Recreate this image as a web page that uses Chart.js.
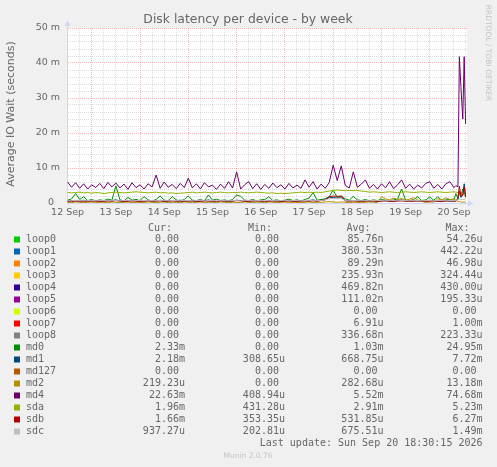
<!DOCTYPE html>
<html>
<head>
<meta charset="utf-8">
<title>Disk latency per device - by week</title>
<script src="https://cdn.jsdelivr.net/npm/chart.js@4.4.1/dist/chart.umd.min.js"></script>
<style>
  html, body { margin: 0; padding: 0; background: #f0f0f0; }
  #wrap { width: 497px; height: 467px; }
</style>
</head>
<body>
<div id="wrap"><canvas id="latencyChart" width="497" height="467"></canvas></div>
<script>
// device names in munin order (later ones are drawn on top)
const DEVICES = ['loop0', 'loop1', 'loop2', 'loop3', 'loop4', 'loop5', 'loop6', 'loop7', 'loop8',
    'md0', 'md1', 'md127', 'md2', 'md4', 'sda', 'sdb', 'sdc'];
const COLORS = ['#00CC00', '#0066B3', '#FF8000', '#FFCC00', '#330099', '#990099', '#CCFF00', '#FF0000', '#808080',
    '#008F00', '#00487D', '#B35A00', '#B38F00', '#6B006B', '#8FB300', '#B30000', '#BEBEBE'];

// legend columns, as printed under the graph
const CUR = ['0.00', '0.00', '0.00', '0.00', '0.00', '0.00', '0.00', '0.00', '0.00',
    '2.33m', '2.18m', '0.00', '219.23u', '22.63m', '1.96m', '1.66m', '937.27u'];
const MIN = ['0.00', '0.00', '0.00', '0.00', '0.00', '0.00', '0.00', '0.00', '0.00',
    '0.00', '308.65u', '0.00', '0.00', '408.94u', '431.28u', '353.35u', '202.81u'];
const AVG = ['85.76n', '380.53n', '89.29n', '235.93n', '469.82n', '111.02n', '0.00', '6.91u', '336.68n',
    '1.03m', '668.75u', '0.00', '282.68u', '5.52m', '2.91m', '531.85u', '675.51u'];
const MAX = ['54.26u', '442.22u', '46.98u', '324.44u', '430.00u', '195.33u', '0.00', '1.00m', '223.33u',
    '24.95m', '7.72m', '0.00', '13.18m', '74.68m', '5.23m', '6.27m', '1.49m'];

// axis labels
const DAY_LABELS = ['12 Sep', '13 Sep', '14 Sep', '15 Sep', '16 Sep', '17 Sep', '18 Sep', '19 Sep', '20 Sep'];
const Y_LABELS = ['0  ', '10 m', '20 m', '30 m', '40 m', '50 m'];

// sample times, hours since 12 Sep 00:00 (2h steps, finer at the end spike)
const HOURS = [];
for (let h = 12; h <= 204; h += 2) HOURS.push(h);
HOURS.push(205, 206, 206.7, 207.5, 208.4, 209.1, 209.8);

// values in milliseconds
const MD0 = [0.8, 1.2, 2.7, 1.0, 1.8, 0.7, 1.0, 0.6, 0.9, 0.7, 1.1, 0.8,
    4.9, 0.9, 0.6, 1.6, 0.8, 1.0, 0.7, 1.8, 0.9, 0.6, 1.0, 2.0,
    0.8, 0.7, 1.8, 0.9, 0.6, 1.0, 2.0, 0.8, 0.7, 1.0, 0.6, 2.3,
    0.8, 1.1, 0.7, 0.9, 0.6, 1.0, 2.3, 1.9, 0.8, 0.7, 1.0, 0.6,
    0.9, 1.0, 1.8, 0.7, 0.9, 0.6, 0.8, 1.1, 0.7, 0.9, 0.6, 1.0,
    1.4, 3.0, 0.8, 1.0, 1.2, 1.8, 3.7, 1.6, 2.0, 1.2, 0.8, 1.9,
    0.9, 0.7, 1.0, 0.6, 0.9, 0.7, 1.0, 0.8, 0.6, 0.9, 1.1, 4.0,
    0.8, 0.7, 1.0, 1.8, 0.7, 0.9, 1.7, 0.8, 1.8, 0.7, 0.9, 1.0,
    0.8,
    2.7, 1.2, 3.5, 2.0, 4.0, 2.8, 2.33];
const MD1 = [0.6, 0.7, 0.5, 0.6, 0.8, 0.6, 0.5, 0.7, 0.6, 0.5, 0.6, 0.7,
    0.9, 0.6, 0.5, 0.7, 0.6, 0.8, 0.6, 0.5, 0.7, 0.6, 0.5, 0.8,
    0.6, 0.5, 0.7, 0.6, 0.8, 0.6, 0.5, 0.7, 0.6, 0.5, 0.6, 0.9,
    0.6, 0.5, 0.7, 0.6, 0.5, 0.6, 0.8, 0.7, 0.6, 0.5, 0.6, 0.7,
    0.6, 0.5, 0.7, 0.6, 0.5, 0.6, 0.7, 0.6, 0.5, 0.6, 0.7, 0.6,
    0.7, 0.9, 0.6, 0.8, 1.0, 1.5, 1.6, 1.4, 1.5, 0.7, 0.6, 0.7,
    0.6, 0.5, 0.7, 0.6, 0.5, 0.6, 0.7, 0.6, 0.5, 0.6, 0.7, 0.9,
    0.6, 0.5, 0.7, 0.6, 0.5, 0.6, 0.8, 0.6, 0.5, 0.7, 0.6, 0.5,
    0.6,
    0.7, 1.2, 3.0, 1.6, 2.5, 5.5, 2.18];
const MD2 = [0.2, 0.1, 0.3, 0.2, 0.1, 0.2, 0.3, 0.1, 0.2, 0.2, 0.1, 0.3,
    0.2, 0.1, 0.2, 0.3, 0.1, 0.2, 0.2, 0.1, 0.3, 0.2, 0.1, 0.2,
    0.3, 0.1, 0.2, 0.2, 0.1, 0.3, 0.2, 0.1, 0.2, 0.3, 0.1, 0.2,
    0.2, 0.1, 0.3, 0.2, 0.1, 0.2, 0.2, 0.1, 0.3, 0.2, 0.1, 0.2,
    0.2, 0.1, 0.3, 0.2, 0.1, 0.2, 0.3, 0.1, 0.2, 0.2, 0.1, 0.2,
    0.3, 0.1, 0.2, 0.2, 0.3, 0.4, 0.3, 0.2, 0.3, 0.2, 0.1, 0.2,
    0.2, 0.1, 0.2, 0.3, 0.2, 0.1, 1.8, 1.2, 0.9, 1.4, 1.0, 1.3,
    0.8, 1.1, 1.5, 0.9, 0.4, 0.2, 0.3, 0.2, 1.2, 0.9, 1.5, 1.0,
    1.2,
    0.8, 0.4, 0.5, 0.3, 0.2, 0.3, 0.22];
const MD4 = [6.0, 4.5, 5.8, 4.2, 5.5, 4.0, 5.2, 4.4, 5.6, 4.1, 5.9, 4.6,
    5.7, 4.3, 5.4, 3.9, 5.8, 4.4, 5.2, 4.0, 5.5, 4.6, 8.0, 4.2,
    6.0, 4.5, 5.3, 4.1, 5.6, 4.4, 7.1, 4.3, 5.5, 4.0, 5.8, 4.6,
    5.1, 3.9, 5.4, 4.2, 6.1, 4.3, 8.9, 4.0, 5.2, 6.1, 4.1, 5.5,
    3.9, 5.3, 4.2, 5.7, 4.4, 5.2, 4.0, 5.6, 4.3, 5.1, 4.2, 6.6,
    4.5, 6.1, 4.0, 5.4, 4.2, 5.8, 10.8, 6.4, 10.6, 5.0, 4.3, 8.9,
    4.5, 5.4, 6.6, 4.2, 5.3, 4.0, 5.5, 4.3, 6.1, 4.1, 5.2, 6.6,
    4.2, 5.4, 4.0, 5.1, 4.3, 5.6, 6.1, 4.2, 5.3, 4.0, 5.5, 6.1,
    4.4,
    5.0, 4.6, 41.8, 33.0, 24.0, 41.8, 22.6];
const SDA = [3.0, 2.9, 3.0, 3.1, 2.9, 3.0, 2.8, 3.0, 2.9, 2.7, 2.9, 3.0,
    3.1, 3.0, 2.9, 3.0, 3.1, 3.2, 3.1, 3.0, 2.9, 3.0, 3.1, 2.9,
    3.0, 2.8, 2.9, 2.7, 2.8, 2.9, 3.0, 3.1, 2.9, 3.0, 3.1, 3.0,
    2.9, 3.0, 3.1, 3.0, 2.9, 3.0, 3.0, 3.1, 3.0, 2.9, 3.0, 3.1,
    3.0, 2.9, 2.8, 2.9, 2.7, 2.8, 2.7, 2.8, 2.9, 3.0, 3.1, 3.0,
    3.1, 3.0, 3.1, 3.0, 3.2, 3.4, 3.6, 3.7, 3.6, 3.5, 3.6, 3.5,
    3.6, 3.4, 3.3, 3.1, 3.2, 3.1, 3.0, 3.1, 3.2, 3.1, 3.0, 3.1,
    3.2, 3.1, 3.0, 3.1, 3.2, 3.1, 3.0, 3.1, 3.2, 3.1, 3.0, 3.1,
    3.2,
    3.1, 3.0, 2.6, 2.2, 2.8, 2.3, 1.96];
const SDB = [0.5, 0.4, 0.6, 0.5, 0.4, 0.5, 0.6, 0.5, 0.4, 0.5, 0.6, 0.5,
    0.7, 0.5, 0.4, 0.5, 0.6, 0.5, 0.4, 0.5, 0.6, 0.5, 0.5, 0.6,
    0.4, 0.5, 0.6, 0.5, 0.4, 0.5, 0.6, 0.5, 0.4, 0.5, 0.6, 0.5,
    0.5, 0.4, 0.6, 0.5, 0.4, 0.5, 0.7, 0.6, 0.5, 0.4, 0.5, 0.6,
    0.5, 0.4, 0.5, 0.6, 0.5, 0.4, 0.5, 0.6, 0.5, 0.4, 0.5, 0.6,
    0.5, 0.6, 0.5, 0.7, 0.9, 1.8, 2.0, 1.9, 2.0, 0.6, 0.5, 0.6,
    0.5, 0.4, 0.5, 0.6, 0.5, 0.4, 0.5, 0.6, 0.5, 0.4, 0.5, 0.6,
    0.5, 0.4, 0.5, 0.6, 0.5, 0.4, 0.5, 0.6, 0.5, 0.4, 0.5, 0.6,
    0.5,
    0.5, 1.5, 4.8, 1.9, 2.2, 4.6, 1.66];
const SDC = [0.7, 0.6, 0.8, 0.7, 0.6, 0.7, 0.8, 0.6, 0.7, 0.7, 0.6, 0.8,
    0.7, 0.6, 0.7, 0.8, 0.6, 0.7, 0.7, 0.6, 0.8, 0.7, 0.6, 0.7,
    0.8, 0.6, 0.7, 0.7, 0.6, 0.8, 0.7, 0.6, 0.7, 0.8, 0.6, 0.7,
    0.7, 0.6, 0.8, 0.7, 0.6, 0.7, 0.7, 0.6, 0.8, 0.7, 0.6, 0.7,
    0.7, 0.6, 0.8, 0.7, 0.6, 0.7, 0.8, 0.6, 0.7, 0.7, 0.6, 0.7,
    0.8, 0.6, 0.7, 0.7, 0.9, 1.2, 1.3, 1.2, 1.3, 0.7, 0.6, 0.7,
    0.7, 0.6, 0.7, 0.8, 0.6, 0.7, 0.7, 0.6, 0.8, 0.7, 0.6, 0.7,
    0.7, 0.6, 0.8, 0.7, 0.6, 0.7, 0.7, 0.6, 0.8, 0.7, 0.6, 0.7,
    0.7,
    0.8, 0.9, 1.2, 1.0, 0.9, 1.1, 0.94];

// loop devices and md127 stayed at zero all week: legend only
const SERIES = { md0: MD0, md1: MD1, md2: MD2, md4: MD4, sda: SDA, sdb: SDB, sdc: SDC };

const FONT_COLOR = '#666666';
const AXIS_COLOR = '#CFD6F8';
const GRID_MINOR = 'rgba(143, 143, 143, 0.3)';
const GRID_MAJOR = 'rgba(222, 79, 79, 0.38)';
const SANS = '"DejaVu Sans", sans-serif';
const MONO = '"DejaVu Sans Mono", monospace';

const muninDecor = {
    id: 'muninDecor',
    beforeDraw(chart) {
        const { ctx, chartArea: a } = chart;
        ctx.save();
        ctx.fillStyle = '#f0f0f0';
        ctx.fillRect(0, 0, chart.width, chart.height);
        ctx.fillStyle = '#ffffff';
        ctx.fillRect(a.left, a.top, a.right - a.left, a.bottom - a.top);
        ctx.restore();
    },
    afterDraw(chart) {
        const { ctx, chartArea: a } = chart;
        ctx.save();
        ctx.fillStyle = FONT_COLOR;

        // title
        ctx.font = '12.4px ' + SANS;
        ctx.textAlign = 'center';
        ctx.textBaseline = 'middle';
        ctx.fillText('Disk latency per device - by week', 248, 19.5);

        // vertical axis title
        ctx.save();
        ctx.translate(11, 114);
        ctx.rotate(-Math.PI / 2);
        ctx.font = '11px ' + SANS;
        ctx.fillText('Average IO Wait (seconds)', 0, 0);
        ctx.restore();

        // rrdtool credit on the right
        ctx.save();
        ctx.translate(488, 53);
        ctx.rotate(Math.PI / 2);
        ctx.font = '7.5px ' + SANS;
        ctx.fillStyle = '#c4c4c4';
        ctx.fillText('RRDTOOL / TOBI OETIKER', 0, 0);
        ctx.restore();

        // axis arrows
        ctx.strokeStyle = AXIS_COLOR;
        ctx.fillStyle = AXIS_COLOR;
        ctx.lineWidth = 1;
        ctx.beginPath();
        ctx.moveTo(a.left + 0.5, a.top);
        ctx.lineTo(a.left + 0.5, 24);
        ctx.moveTo(a.right, a.bottom + 0.5);
        ctx.lineTo(470, a.bottom + 0.5);
        ctx.stroke();
        ctx.beginPath();
        ctx.moveTo(a.left + 0.5, 20.5);
        ctx.lineTo(a.left - 2.5, 26);
        ctx.lineTo(a.left + 3.5, 26);
        ctx.closePath();
        ctx.fill();
        ctx.beginPath();
        ctx.moveTo(473.5, a.bottom + 0.5);
        ctx.lineTo(468, a.bottom - 2.5);
        ctx.lineTo(468, a.bottom + 3.5);
        ctx.closePath();
        ctx.fill();

        // legend table
        const colRight = [185, 285, 383.5, 482.5];
        const heads = ['Cur:', 'Min:', 'Avg:', 'Max:'];
        const charW = 6;
        ctx.font = '10px ' + MONO;
        ctx.textBaseline = 'middle';
        ctx.fillStyle = FONT_COLOR;
        ctx.textAlign = 'right';
        heads.forEach((h, c) => ctx.fillText(h, colRight[c] - 13, 228.5));
        DEVICES.forEach((name, i) => {
            const y = 239.5 + i * 12;
            ctx.fillStyle = COLORS[i];
            ctx.fillRect(14, y - 3, 6, 6);
            ctx.fillStyle = FONT_COLOR;
            ctx.textAlign = 'left';
            ctx.fillText(name, 26, y);
            ctx.textAlign = 'right';
            [CUR, MIN, AVG, MAX].forEach((col, c) => {
                const s = col[i];
                const pad = /[0-9]$/.test(s) ? charW : 0;
                ctx.fillText(s, colRight[c] - pad, y);
            });
        });
        ctx.fillText('Last update: Sun Sep 20 18:30:15 2026', 482.5, 443.5);

        ctx.textAlign = 'center';
        ctx.font = '7.5px ' + SANS;
        ctx.fillStyle = '#c4c4c4';
        ctx.fillText('Munin 2.0.76', 248, 456);
        ctx.restore();
    }
};

const datasets = DEVICES.map((name, i) => ({
    label: name,
    data: SERIES[name] || [],
    borderColor: COLORS[i],
    backgroundColor: COLORS[i],
    borderWidth: 1,
    pointRadius: 0,
    tension: 0,
    fill: false,
    order: -i
}));

new Chart(document.getElementById('latencyChart'), {
    type: 'line',
    data: { labels: HOURS, datasets: datasets },
    plugins: [muninDecor],
    options: {
        responsive: false,
        devicePixelRatio: 1,
        animation: false,
        events: [],
        layout: { padding: { top: 28, right: 30, bottom: 244, left: 0 } },
        plugins: {
            legend: { display: false },
            title: { display: false },
            tooltip: { enabled: false }
        },
        scales: {
            x: {
                type: 'linear',
                min: 11.7,
                max: 210.5,
                afterBuildTicks: (scale) => {
                    const ticks = [];
                    for (let h = 12; h <= 210; h += 6) ticks.push({ value: h });
                    scale.ticks = ticks;
                },
                afterFit: (scale) => { scale.height = 20; },
                grid: {
                    drawTicks: false,
                    lineWidth: 1,
                    color: (ctx) => (ctx.tick && ctx.tick.value % 24 === 0) ? GRID_MAJOR : GRID_MINOR
                },
                border: { display: true, color: AXIS_COLOR, width: 1, dash: [1, 1] },
                ticks: {
                    autoSkip: false,
                    maxRotation: 0,
                    padding: 4,
                    color: FONT_COLOR,
                    font: { family: 'DejaVu Sans', size: 9.5 },
                    callback: (value) => value % 24 === 12 ? DAY_LABELS[(value - 12) / 24] : ''
                }
            },
            y: {
                type: 'linear',
                min: 0,
                max: 50,
                afterBuildTicks: (scale) => {
                    const ticks = [];
                    for (let v = 0; v <= 50; v += 2) ticks.push({ value: v });
                    scale.ticks = ticks;
                },
                afterFit: (scale) => { scale.width = 67; },
                grid: {
                    drawTicks: false,
                    lineWidth: 1,
                    color: (ctx) => (ctx.tick && ctx.tick.value % 10 === 0) ? GRID_MAJOR : GRID_MINOR
                },
                border: { display: true, color: AXIS_COLOR, width: 1, dash: [1, 1] },
                ticks: {
                    autoSkip: false,
                    padding: 7,
                    color: FONT_COLOR,
                    font: { family: 'DejaVu Sans', size: 9.5 },
                    callback: (value) => value % 10 === 0 ? Y_LABELS[value / 10] : ''
                }
            }
        }
    }
});
</script>
</body>
</html>
